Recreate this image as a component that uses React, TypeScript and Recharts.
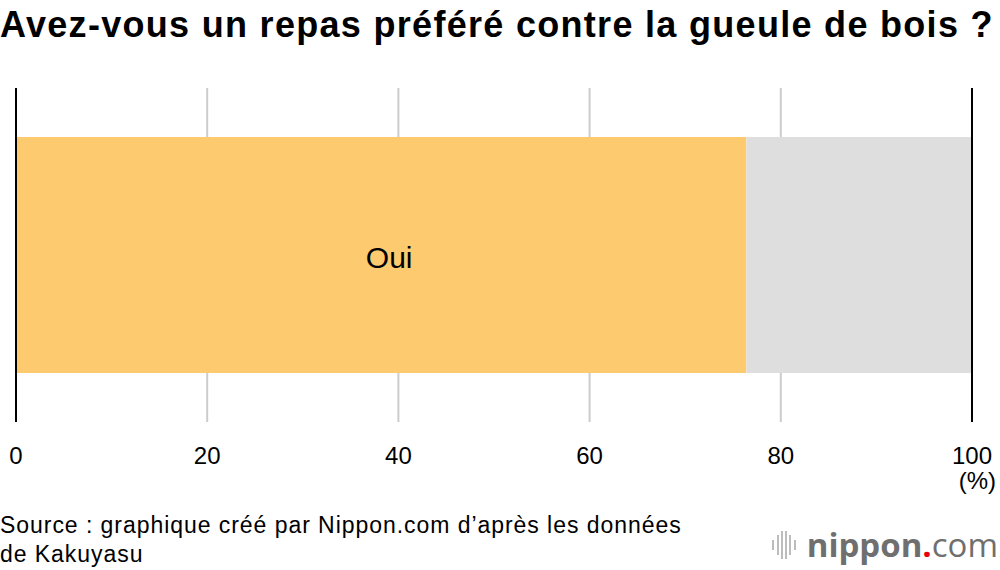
import React from "react";
import {
  Bar,
  BarChart,
  CartesianGrid,
  LabelList,
  ReferenceLine,
  XAxis,
  YAxis,
} from "recharts";

const categories = ["Repas préféré contre la gueule de bois"];
const ouiValues = [76.4];
const nonValues = [23.6];
const xTicks = [0, 20, 40, 60, 80, 100];

const data = categories.map((name, i) => ({
  name,
  oui: ouiValues[i],
  non: nonValues[i],
}));

const FONT = "'Liberation Sans', Arial, Helvetica, sans-serif";

export default function App() {
  return (
    <div
      style={{
        position: "absolute",
        left: 0,
        top: 0,
        width: 1000,
        height: 570,
        background: "#fff",
        fontFamily: FONT,
        color: "#000",
      }}
    >
      <div
        style={{
          position: "absolute",
          left: 0,
          top: 4,
          fontSize: 36,
          fontWeight: 700,
          letterSpacing: 1.3,
          whiteSpace: "nowrap",
        }}
      >
        Avez-vous un repas préféré contre la gueule de bois ?
      </div>

      <BarChart
        width={1000}
        height={570}
        data={data}
        layout="vertical"
        margin={{ top: 88, right: 28, left: 16, bottom: 108 }}
        barSize={236}
      >
        <CartesianGrid horizontal={false} stroke="#cccccc" strokeWidth={2} />
        <XAxis
          type="number"
          domain={[0, 100]}
          ticks={xTicks}
          axisLine={false}
          tickLine={false}
          tickSize={0}
          tickMargin={25}
          height={40}
          tick={{ fill: "#000", fontSize: 24, fontFamily: FONT }}
          interval={0}
        />
        <YAxis type="category" dataKey="name" hide />
        <Bar dataKey="oui" stackId="a" fill="#fdca6f" isAnimationActive={false}>
          <LabelList
            dataKey="oui"
            position="center"
            formatter={() => "Oui"}
            fill="#000"
            fontSize={30}
            fontFamily={FONT}
            dx={8}
            dy={2}
          />
        </Bar>
        <Bar dataKey="non" stackId="a" fill="#dedede" isAnimationActive={false} />
        <ReferenceLine x={0} stroke="#000" strokeWidth={2} />
        <ReferenceLine x={100} stroke="#000" strokeWidth={2} />
      </BarChart>

      <div
        style={{
          position: "absolute",
          right: 4,
          top: 467,
          fontSize: 24,
        }}
      >
        (%)
      </div>

      <div
        style={{
          position: "absolute",
          left: 0,
          top: 511,
          fontSize: 23,
          letterSpacing: 0.95,
          lineHeight: "29px",
        }}
      >
        Source : graphique créé par Nippon.com d’après les données
        <br />
        de Kakuyasu
      </div>

      <div
        style={{
          position: "absolute",
          right: 2,
          top: 527,
          display: "flex",
          alignItems: "center",
          gap: 9,
          fontFamily: "'Open Sans', 'DejaVu Sans', sans-serif",
          fontSize: 33,
          color: "#6f6f6f",
          lineHeight: "36px",
        }}
      >
        <svg width={26} height={28} viewBox="0 0 26 28">
          {[0, 5, 9, 13, 17, 22].map((x, i) => (
            <rect
              key={x}
              x={x}
              y={[9, 4, 0, 0, 4, 9][i]}
              width={2}
              height={[10, 20, 28, 28, 20, 10][i]}
              fill="#bdbdbd"
            />
          ))}
        </svg>
        <span>
          <span style={{ fontWeight: 700 }}>nippon</span>
          <span style={{ color: "#e60012", fontWeight: 700 }}>.</span>
          <span style={{ fontWeight: 400 }}>com</span>
        </span>
      </div>
    </div>
  );
}
